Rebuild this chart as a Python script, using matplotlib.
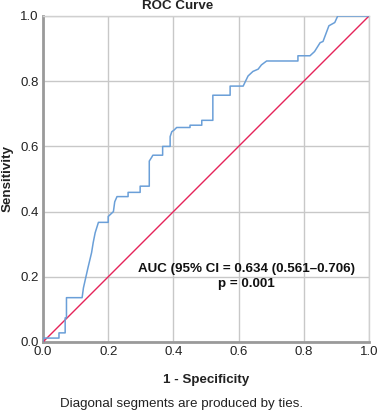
import matplotlib
matplotlib.use("Agg")
import matplotlib.pyplot as plt

plt.rcParams['font.family'] = ['Liberation Sans', 'DejaVu Sans']

# ROC coordinates (1 - specificity, sensitivity)
fpr = [0.000, 0.000, 0.049, 0.049, 0.068, 0.068, 0.072, 0.072, 0.120, 0.124,
       0.138, 0.149, 0.154, 0.160, 0.170, 0.200, 0.200, 0.216, 0.220, 0.227,
       0.261, 0.261, 0.298, 0.298, 0.326, 0.326, 0.333, 0.337, 0.367, 0.367,
       0.390, 0.390, 0.395, 0.402, 0.410, 0.451, 0.451, 0.487, 0.487, 0.521,
       0.521, 0.574, 0.574, 0.614, 0.629, 0.644, 0.660, 0.670, 0.686, 0.782,
       0.782, 0.819, 0.833, 0.850, 0.859, 0.877, 0.895, 0.904, 1.000]
tpr = [0.000, 0.012, 0.012, 0.028, 0.028, 0.074, 0.074, 0.136, 0.136, 0.166,
       0.228, 0.274, 0.305, 0.335, 0.367, 0.367, 0.385, 0.400, 0.430, 0.446,
       0.446, 0.459, 0.459, 0.478, 0.478, 0.555, 0.566, 0.573, 0.573, 0.600,
       0.600, 0.630, 0.645, 0.650, 0.658, 0.658, 0.665, 0.665, 0.680, 0.680,
       0.757, 0.757, 0.785, 0.785, 0.816, 0.830, 0.837, 0.850, 0.862, 0.862,
       0.878, 0.878, 0.891, 0.918, 0.922, 0.970, 0.980, 1.000, 1.000]
ref_line = [0.0, 1.0]
ticks = [0.0, 0.2, 0.4, 0.6, 0.8, 1.0]
auc_text = "AUC (95% CI = 0.634 (0.561\u20130.706)\np = 0.001"

fig = plt.figure(figsize=(3.79, 4.12), dpi=100)
ax = fig.add_axes([43/379, 70/412, 326/379, 326/412])

ax.plot(ref_line, ref_line, color='#e5245a', lw=1.0, zorder=3)
ax.plot(fpr, tpr, color='#6a9fd8', lw=1.1, zorder=4)

ax.set_xlim(0, 1)
ax.set_ylim(0, 1)
ax.set_xticks(ticks)
ax.set_yticks(ticks)
ax.set_xticklabels([f"{t:.1f}" for t in ticks])
ax.set_yticklabels([f"{t:.1f}" for t in ticks])
ax.tick_params(length=0, pad=3, labelsize=9.5, colors='#222222')
ax.grid(color='#c8c8c8', lw=1.0)
ax.set_axisbelow(True)

for side in ['top', 'right']:
    ax.spines[side].set_color('#d0d0d0')
    ax.spines[side].set_linewidth(1.0)
for side in ['left', 'bottom']:
    ax.spines[side].set_color('#9a9a9a')
    ax.spines[side].set_linewidth(2.0)

ax.text(0.623, 0.200, auc_text, ha='center', va='center', fontsize=9.6,
        fontweight='bold', linespacing=1.35, color='#111111', zorder=5)

fig.text(178/379, 1 - 6/412, "ROC Curve", ha='center', va='center',
         fontsize=9.6, fontweight='bold', color='#222222')
fig.text(8/379, 1 - 179/412, "Sensitivity", ha='center', va='center',
         rotation=90, fontsize=9.6, fontweight='bold', color='#222222')
fig.text(206/379, 1 - 380/412, "1 - Specificity", ha='center', va='center',
         fontsize=9.6, fontweight='bold', color='#222222')
fig.text(182/379, 1 - 404/412, "Diagonal segments are produced by ties.",
         ha='center', va='center', fontsize=9.6, color='#222222')

fig.savefig("out.png", dpi=100)
